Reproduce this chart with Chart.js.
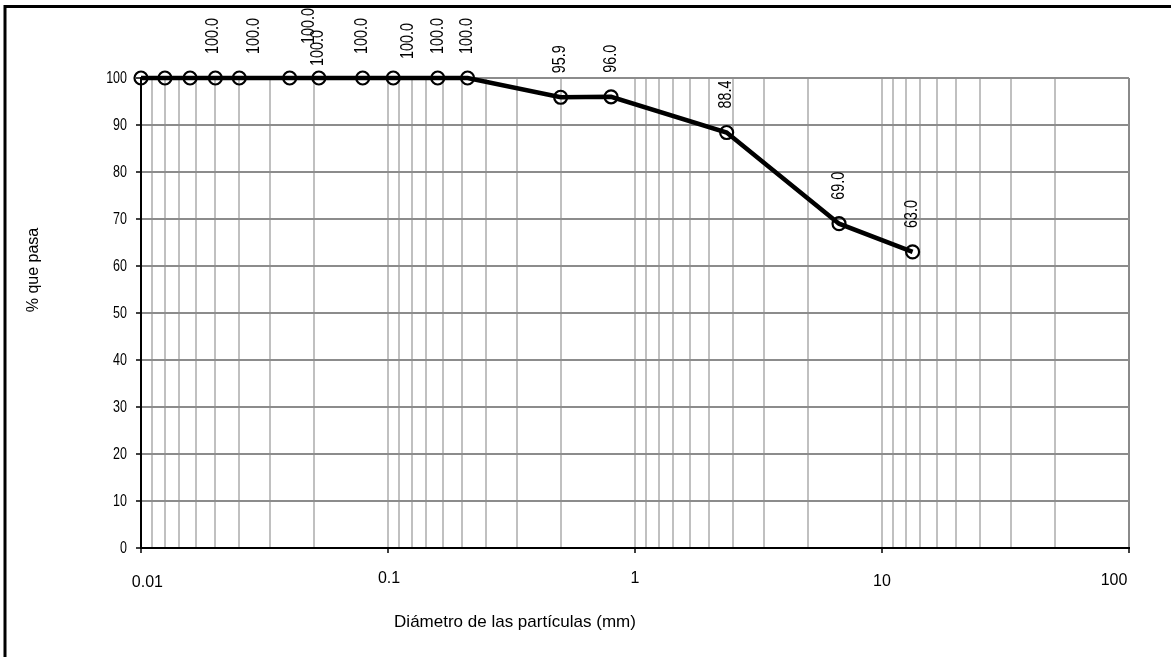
<!DOCTYPE html>
<html>
<head>
<meta charset="utf-8">
<script src="https://cdn.jsdelivr.net/npm/chart.js@4/dist/chart.umd.min.js"></script>
<style>
  html, body { margin: 0; padding: 0; background: #ffffff; }
  canvas { display: block; }
</style>
</head>
<body>
<canvas id="granulometria" width="1171" height="657"></canvas>
<script>
// Curva granulométrica: diámetro (mm) vs. porcentaje que pasa
const diametros = [0.01, 0.0125, 0.0158, 0.02, 0.025, 0.04, 0.0525, 0.079, 0.105, 0.159, 0.21, 0.50, 0.80, 2.35, 6.7, 13.3];
const pasa      = [100, 100, 100, 100, 100, 100, 100, 100, 100, 100, 100, 95.9, 96.0, 88.4, 69.0, 63.0];

// Escalas
const xMayores = [0.01, 0.1, 1, 10, 100];
const xEtiquetas = ['0.01', '0.1', '1', '10', '100'];
const yTicks = [0, 10, 20, 30, 40, 50, 60, 70, 80, 90, 100];
const tituloX = 'Diámetro de las partículas (mm)';
const tituloY = '% que pasa';

// Desplazamiento manual de cada etiqueta de dato (px); null = sin etiqueta
const etiquetaDx = [null, null, null, -2, 15, 19, -1, -1, 15, 0, 0, 0, 0, 0, 0, 0];
const etiquetaDy = [null, null, null, 0, 0, -10, 12, 0, 5, 0, 0, 0, 0, 0, 0, 0];
// Ajuste de las etiquetas del eje X (px)
const ejeXdx = [6.4, 1, 0, 0, -15];
const ejeXdy = [3.5, 0, 0, 3, 2];

const FUENTE = '"Liberation Sans", Arial, sans-serif';

// Líneas de división secundarias: 10·d/n para n = 2..9 en cada década
function divisionesX() {
  const vals = [];
  for (let k = 0; k < xMayores.length - 1; k++) {
    const top = xMayores[k + 1];
    vals.push(xMayores[k]);
    for (let n = 9; n >= 2; n--) vals.push(top / n);
  }
  vals.push(xMayores[xMayores.length - 1]);
  return vals;
}
const esMayor = v => xMayores.some(m => Math.abs(v / m - 1) < 1e-9);

function textoComprimido(ctx, texto, x, y, angulo, escala, align, baseline, font) {
  ctx.save();
  ctx.translate(x, y);
  ctx.rotate(angulo);
  ctx.scale(escala, 1);
  ctx.font = font;
  ctx.textAlign = align;
  ctx.textBaseline = baseline;
  ctx.fillStyle = '#000';
  ctx.fillText(texto, 0, 0);
  ctx.restore();
}

const decoracion = {
  id: 'decoracion',
  beforeDraw(chart) {
    const ctx = chart.ctx;
    ctx.save();
    ctx.fillStyle = '#ffffff';
    ctx.fillRect(0, 0, chart.width, chart.height);
    ctx.restore();
  },
  afterDraw(chart) {
    const ctx = chart.ctx;
    const xs = chart.scales.x, ys = chart.scales.y;

    // Etiquetas del eje Y
    yTicks.forEach(v => {
      textoComprimido(ctx, String(v), 127, ys.getPixelForValue(v) + 0.5, 0, 0.78, 'right', 'middle', '16px ' + FUENTE);
    });
    // Etiquetas del eje X
    xMayores.forEach((v, i) => {
      textoComprimido(ctx, xEtiquetas[i], xs.getPixelForValue(v) + ejeXdx[i], 579 + ejeXdy[i], 0, 1, 'center', 'middle', '16px ' + FUENTE);
    });

    // Títulos de los ejes
    textoComprimido(ctx, tituloX, 515, 622, 0, 1, 'center', 'middle', '17px ' + FUENTE);
    textoComprimido(ctx, tituloY, 34, 270, -Math.PI / 2, 1, 'center', 'middle', '16px ' + FUENTE);

    // Etiquetas de datos verticales
    const meta = chart.getDatasetMeta(0);
    meta.data.forEach((pt, i) => {
      if (etiquetaDx[i] === null) return;
      const px = xs.getPixelForValue(diametros[i]) + etiquetaDx[i];
      const py = ys.getPixelForValue(pasa[i]) - 24 + etiquetaDy[i];
      textoComprimido(ctx, pasa[i].toFixed(1), px, py, -Math.PI / 2, 0.82, 'left', 'middle', '17.5px ' + FUENTE);
    });

    // Marco exterior
    ctx.save();
    ctx.strokeStyle = '#000';
    ctx.lineWidth = 3;
    ctx.strokeRect(5, 6.5, 1300, 800);
    ctx.restore();
  }
};

new Chart(document.getElementById('granulometria'), {
  type: 'scatter',
  data: {
    datasets: [{
      data: diametros.map((d, i) => ({ x: d, y: pasa[i] })),
      showLine: true,
      borderColor: '#000',
      borderWidth: 4.5,
      tension: 0,
      pointRadius: 6.5,
      pointHoverRadius: 6.5,
      pointBorderWidth: 2.2,
      pointBorderColor: '#000',
      pointBackgroundColor: 'rgba(0,0,0,0)',
      clip: false
    }]
  },
  options: {
    responsive: false,
    devicePixelRatio: 1,
    animation: false,
    events: [],
    layout: { padding: { top: 78, right: 42, left: 0, bottom: 0 } },
    plugins: { legend: { display: false }, tooltip: { enabled: false } },
    scales: {
      x: {
        type: 'logarithmic',
        min: 0.01,
        max: 100,
        afterBuildTicks: s => { s.ticks = divisionesX().map(v => ({ value: v, major: esMayor(v) })); },
        afterFit: s => { s.height = 109; },
        ticks: { display: false, autoSkip: false },
        grid: {
          color: c => (c.tick && Math.abs(c.tick.value - 100) < 1e-9) ? '#8a8a8a' : '#c0c0c0',
          lineWidth: 2,
          drawTicks: true,
          tickLength: 5,
          tickWidth: 1.5,
          tickColor: c => (c.tick && esMayor(c.tick.value)) ? '#000' : 'rgba(0,0,0,0)'
        },
        border: { display: true, color: '#000', width: 2 }
      },
      y: {
        type: 'linear',
        min: 0,
        max: 100,
        afterBuildTicks: s => { s.ticks = yTicks.map(v => ({ value: v })); },
        afterFit: s => { s.width = 141; },
        ticks: { display: false },
        grid: {
          color: '#8c8c8c',
          lineWidth: 2,
          drawTicks: true,
          tickLength: 5,
          tickWidth: 1.5,
          tickColor: '#000'
        },
        border: { display: true, color: '#000', width: 2 }
      }
    }
  },
  plugins: [decoracion]
});
</script>
</body>
</html>
